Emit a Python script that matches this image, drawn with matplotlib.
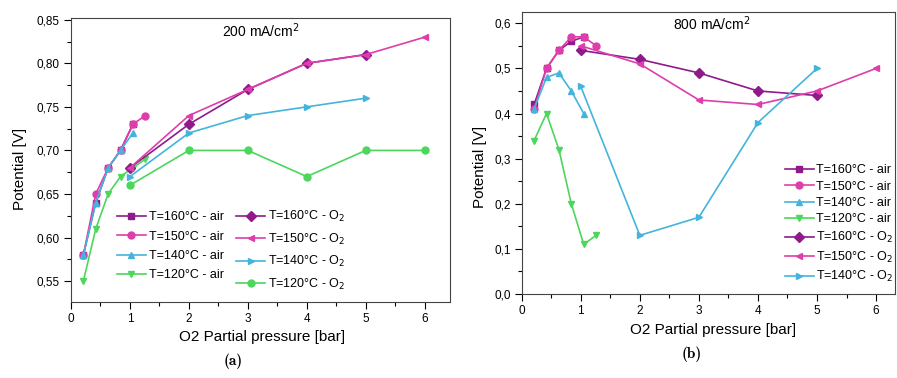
import matplotlib.pyplot as plt
from matplotlib.ticker import FuncFormatter, MultipleLocator

plt.rcParams['font.family'] = ['Liberation Sans', 'DejaVu Sans']

# O2 partial pressure: air (21 % O2) and pure O2
x_air = [0.21, 0.42, 0.63, 0.84, 1.05, 1.26]
x_o2 = [1, 2, 3, 4, 5, 6]

# (a) 200 mA/cm2
a_160_air = [0.58, 0.64, 0.68, 0.70, 0.73]
a_150_air = [0.58, 0.65, 0.68, 0.70, 0.73, 0.74]
a_140_air = [0.58, 0.64, 0.68, 0.70, 0.72]
a_120_air = [0.55, 0.61, 0.65, 0.67, 0.68, 0.69]
a_160_o2 = [0.68, 0.73, 0.77, 0.80, 0.81]
a_150_o2 = [0.68, 0.74, 0.77, 0.80, 0.81, 0.83]
a_140_o2 = [0.67, 0.72, 0.74, 0.75, 0.76]
a_120_o2 = [0.66, 0.70, 0.70, 0.67, 0.70, 0.70]

# (b) 800 mA/cm2
b_160_air = [0.42, 0.50, 0.54, 0.56, 0.57]
b_150_air = [0.41, 0.50, 0.54, 0.57, 0.57, 0.55]
b_140_air = [0.41, 0.48, 0.49, 0.45, 0.40]
b_120_air = [0.34, 0.40, 0.32, 0.20, 0.11, 0.13]
b_160_o2 = [0.54, 0.52, 0.49, 0.45, 0.44]
b_150_o2 = [0.55, 0.51, 0.43, 0.42, 0.45, 0.50]
b_140_o2 = [0.46, 0.13, 0.17, 0.38, 0.50]

c160 = '#8e1a8c'
c150 = '#de3eab'
c140 = '#45b4dc'
c120 = '#4dd65c'


def series(ax, x, y, color, marker, label):
    ax.plot(x[:len(y)], y, color=color, marker=marker, markersize=5,
            linewidth=1.2, label=label)


def style_axes(ax, fmt):
    ax.xaxis.set_major_locator(MultipleLocator(1))
    ax.xaxis.set_minor_locator(MultipleLocator(0.5))
    ax.yaxis.set_major_formatter(FuncFormatter(fmt))
    ax.tick_params(which='major', length=5, width=0.8, labelsize=8.5, pad=3)
    ax.tick_params(which='minor', length=3, width=0.8)
    ax.tick_params(top=False, right=False)
    for s in ax.spines.values():
        s.set_color('#444444')
        s.set_linewidth(0.8)


fig = plt.figure(figsize=(8.97, 3.78), dpi=100)

# ---------- (a) ----------
ax1 = fig.add_axes([71 / 897, 1 - 302 / 378, 379 / 897, 284 / 378])
series(ax1, x_air, a_160_air, c160, 's', 'T=160°C - air')
series(ax1, x_air, a_150_air, c150, 'o', 'T=150°C - air')
series(ax1, x_air, a_140_air, c140, '^', 'T=140°C - air')
series(ax1, x_air, a_120_air, c120, 'v', 'T=120°C - air')
series(ax1, x_o2, a_160_o2, c160, 'D', 'T=160°C - O$_2$')
series(ax1, x_o2, a_150_o2, c150, '<', 'T=150°C - O$_2$')
series(ax1, x_o2, a_140_o2, c140, '>', 'T=140°C - O$_2$')
series(ax1, x_o2, a_120_o2, c120, 'o', 'T=120°C - O$_2$')
ax1.set_xlim(0, 6.43)
ax1.set_ylim(0.526, 0.852)
ax1.yaxis.set_major_locator(MultipleLocator(0.05))
ax1.yaxis.set_minor_locator(MultipleLocator(0.025))
style_axes(ax1, lambda v, p: f'{v:.2f}'.replace('.', ','))
ax1.text(0.5, 0.955, '200 mA/cm$^2$', transform=ax1.transAxes,
         ha='center', va='center', fontsize=10)
ax1.set_xlabel('O2 Partial pressure [bar]', fontsize=11)
ax1.xaxis.set_label_coords(0.505, -0.099)
ax1.set_ylabel('Potential [V]', fontsize=11)
ax1.yaxis.set_label_coords(-0.116, 0.47)
ax1.legend(ncol=2, loc='upper left', bbox_to_anchor=(117 / 897, 1 - 209 / 378),
           bbox_transform=fig.transFigure, frameon=False, fontsize=9,
           borderpad=0, borderaxespad=0, handlelength=2.3, handletextpad=0.25,
           columnspacing=1.0, labelspacing=0.6)

# ---------- (b) ----------
ax2 = fig.add_axes([521.7 / 897, 1 - 294 / 378, 373.3 / 897, 282 / 378])
series(ax2, x_air, b_160_air, c160, 's', 'T=160°C - air')
series(ax2, x_air, b_150_air, c150, 'o', 'T=150°C - air')
series(ax2, x_air, b_140_air, c140, '^', 'T=140°C - air')
series(ax2, x_air, b_120_air, c120, 'v', 'T=120°C - air')
series(ax2, x_o2, b_160_o2, c160, 'D', 'T=160°C - O$_2$')
series(ax2, x_o2, b_150_o2, c150, '<', 'T=150°C - O$_2$')
series(ax2, x_o2, b_140_o2, c140, '>', 'T=140°C - O$_2$')
ax2.set_xlim(0, 6.32)
ax2.set_ylim(0, 0.625)
ax2.yaxis.set_major_locator(MultipleLocator(0.1))
ax2.yaxis.set_minor_locator(MultipleLocator(0.05))
style_axes(ax2, lambda v, p: f'{v:.1f}'.replace('.', ','))
ax2.text(0.51, 0.96, '800 mA/cm$^2$', transform=ax2.transAxes,
         ha='center', va='center', fontsize=10)
ax2.set_xlabel('O2 Partial pressure [bar]', fontsize=11)
ax2.xaxis.set_label_coords(0.512, -0.103)
ax2.set_ylabel('Potential [V]', fontsize=11)
ax2.yaxis.set_label_coords(-0.093, 0.45)
ax2.legend(loc='upper left', bbox_to_anchor=(785 / 897, 1 - 164 / 378),
           bbox_transform=fig.transFigure, frameon=False, fontsize=9,
           borderpad=0, borderaxespad=0, handlelength=2.3, handletextpad=0.2,
           labelspacing=0.36)

# sub-figure captions
fig.text(233 / 897, 1 - 361 / 378, '(a)', ha='center', va='center',
         fontsize=11, fontweight='bold', family=['cmb10', 'DejaVu Serif'])
fig.text(692 / 897, 1 - 354 / 378, '(b)', ha='center', va='center',
         fontsize=11, fontweight='bold', family=['cmb10', 'DejaVu Serif'])

fig.savefig('out.png', dpi=100)
